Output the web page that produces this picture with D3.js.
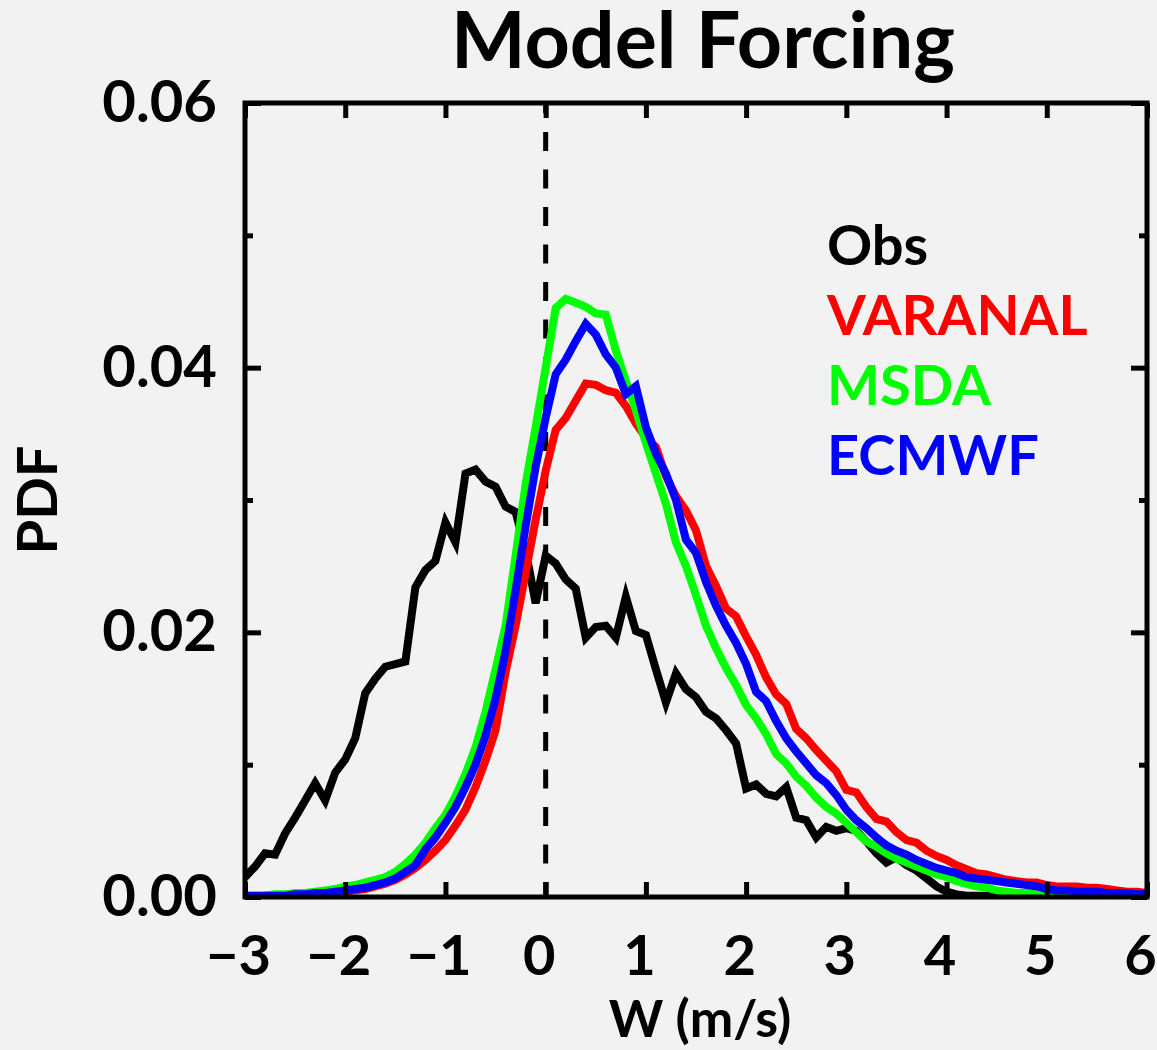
<html>
<script src="https://d3js.org/d3.v7.min.js"></script>
<style>
    body { margin: 0; background: #f2f2f2; }
    svg { display: block; font-family: Lato, 'Open Sans', sans-serif; font-weight: bold; }
</style>
<body>
<svg width=1157 height=1050></svg>
<script>

    // bins of W (m/s), 0.1 wide, from -3 to 6
    let binStart = -3, binStep = 0.1;

    let obs = [0.0015, 0.0023, 0.0033, 0.0032, 0.0048, 0.0060, 0.0073, 0.0086, 0.0073, 0.0094,
        0.0104, 0.0120, 0.0154, 0.0165, 0.0174, 0.0176, 0.0178, 0.0234, 0.0247, 0.0254,
        0.0283, 0.0268, 0.0320, 0.0323, 0.0314, 0.0310, 0.0295, 0.0291, 0.0262, 0.0222,
        0.0258, 0.0252, 0.0240, 0.0233, 0.0196, 0.0204, 0.0205, 0.0196, 0.0227, 0.0201,
        0.0198, 0.0172, 0.0147, 0.0169, 0.0157, 0.0151, 0.0140, 0.0135, 0.0126, 0.0116,
        0.0082, 0.0085, 0.0078, 0.0076, 0.0083, 0.0060, 0.0058, 0.0045, 0.0053, 0.0050,
        0.0052, 0.0050, 0.0042, 0.0033, 0.0026, 0.0030, 0.0024, 0.0020, 0.0014, 0.0008,
        0.0004, 0.0002, 0.0001, 0.0001, 0.0001, 0.0000, 0.0000, 0.0000, 0.0000, 0.0000,
        0.0000, 0.0000, 0.0000, 0.0000, 0.0000, 0.0000, 0.0000, 0.0000, 0.0000, 0.0000, 0.0000];

    let varanal = [0.0000, 0.0000, 0.0001, 0.0001, 0.0001, 0.0001, 0.0002, 0.0002, 0.0003, 0.0003,
        0.0004, 0.0005, 0.0006, 0.0008, 0.0010, 0.0013, 0.0017, 0.0022, 0.0028, 0.0035,
        0.0043, 0.0054, 0.0066, 0.0083, 0.0103, 0.0126, 0.0170, 0.0205, 0.0245, 0.0285,
        0.0322, 0.0353, 0.0362, 0.0375, 0.0388, 0.0387, 0.0383, 0.0381, 0.0371, 0.0358,
        0.0347, 0.0340, 0.0318, 0.0303, 0.0292, 0.0277, 0.0250, 0.0235, 0.0218, 0.0212,
        0.0197, 0.0183, 0.0166, 0.0153, 0.0146, 0.0127, 0.0120, 0.0111, 0.0103, 0.0095,
        0.0081, 0.0079, 0.0068, 0.0059, 0.0057, 0.0049, 0.0043, 0.0041, 0.0035, 0.0031,
        0.0028, 0.0024, 0.0021, 0.0018, 0.0017, 0.0015, 0.0013, 0.0012, 0.0011, 0.0011,
        0.0009, 0.0008, 0.0008, 0.0008, 0.0007, 0.0007, 0.0006, 0.0005, 0.0004, 0.0004, 0.0003];

    let msda = [0.0001, 0.0001, 0.0001, 0.0002, 0.0002, 0.0003, 0.0003, 0.0004, 0.0005, 0.0006,
        0.0008, 0.0009, 0.0011, 0.0013, 0.0015, 0.0019, 0.0025, 0.0032, 0.0041, 0.0052,
        0.0062, 0.0076, 0.0093, 0.0113, 0.0140, 0.0172, 0.0205, 0.0258, 0.0312, 0.0355,
        0.0400, 0.0445, 0.0452, 0.0449, 0.0446, 0.0441, 0.0440, 0.0413, 0.0390, 0.0368,
        0.0343, 0.0320, 0.0297, 0.0268, 0.0250, 0.0228, 0.0205, 0.0188, 0.0173, 0.0160,
        0.0145, 0.0135, 0.0123, 0.0108, 0.0101, 0.0091, 0.0084, 0.0075, 0.0068, 0.0063,
        0.0056, 0.0049, 0.0042, 0.0038, 0.0033, 0.0029, 0.0026, 0.0023, 0.0020, 0.0017,
        0.0015, 0.0012, 0.0010, 0.0008, 0.0007, 0.0005, 0.0004, 0.0003, 0.0003, 0.0002,
        0.0002, 0.0001, 0.0001, 0.0001, 0.0001, 0.0001, 0.0000, 0.0000, 0.0000, 0.0000, 0.0000];

    let ecmwf = [0.0001, 0.0001, 0.0001, 0.0001, 0.0001, 0.0002, 0.0002, 0.0003, 0.0003, 0.0004,
        0.0005, 0.0006, 0.0007, 0.0009, 0.0011, 0.0014, 0.0019, 0.0024, 0.0036, 0.0045,
        0.0056, 0.0068, 0.0083, 0.0100, 0.0122, 0.0150, 0.0186, 0.0232, 0.0280, 0.0325,
        0.0362, 0.0395, 0.0406, 0.0420, 0.0433, 0.0425, 0.0410, 0.0400, 0.0380, 0.0386,
        0.0355, 0.0335, 0.0320, 0.0300, 0.0270, 0.0260, 0.0238, 0.0220, 0.0205, 0.0192,
        0.0176, 0.0155, 0.0148, 0.0133, 0.0120, 0.0110, 0.0101, 0.0092, 0.0086, 0.0077,
        0.0066, 0.0058, 0.0052, 0.0045, 0.0039, 0.0035, 0.0032, 0.0028, 0.0025, 0.0022,
        0.0020, 0.0018, 0.0015, 0.0014, 0.0013, 0.0012, 0.0011, 0.0010, 0.0009, 0.0008,
        0.0006, 0.0005, 0.0005, 0.0004, 0.0004, 0.0004, 0.0003, 0.0003, 0.0003, 0.0002, 0.0002];

    let seriesNames = ['Obs', 'VARANAL', 'MSDA', 'ECMWF'];
    let seriesColors = ['#000000', '#ff0000', '#00ff00', '#0000ff'];
    let xTicks = [-3, -2, -1, 0, 1, 2, 3, 4, 5, 6];
    let yTicks = [0, 0.02, 0.04, 0.06];
    let yMinor = [0.01, 0.03, 0.05];

    let svg = d3.select('svg'),
        margin = { top: 103, right: 10, bottom: 153, left: 245 },
        width = +svg.attr('width') - margin.left - margin.right,
        height = +svg.attr('height') - margin.top - margin.bottom,
        svgg = svg.append('g')
            .attr('transform', 'translate(' + margin.left + ',' + margin.top + ')');

    svg.insert('rect', ':first-child')
        .attr('width', 1157).attr('height', 1050).attr('fill', '#f2f2f2');

    let xscale = d3.scaleLinear().domain([-3, 6]).range([0, width]);
    let yscale = d3.scaleLinear().domain([0, 0.06]).range([height, 0]);

    svgg.append('clipPath').attr('id', 'plot')
        .append('rect').attr('width', width).attr('height', height);

    // zero line
    svgg.append('line')
        .attr('x1', xscale(0)).attr('x2', xscale(0))
        .attr('y1', 0).attr('y2', height)
        .attr('stroke', 'black').attr('stroke-width', 5)
        .attr('stroke-dasharray', '19,18.5').attr('stroke-dashoffset', 8.5);

    let line = d3.line()
        .x((d, i) => xscale(binStart + i * binStep))
        .y(d => yscale(d));

    [obs, varanal, msda, ecmwf].forEach((s, k) => {
        svgg.append('path')
            .datum(s)
            .attr('clip-path', 'url(#plot)')
            .attr('fill', 'none')
            .attr('stroke', seriesColors[k])
            .attr('stroke-width', 8)
            .attr('stroke-linejoin', 'miter')
            .attr('d', line);
    });

    // axes, ticks pointing in
    function styleAxis(g) {
        g.select('.domain').remove();
        g.selectAll('.tick line').attr('stroke', 'black').attr('stroke-width', 5);
        g.selectAll('.tick text').attr('fill', 'black')
            .style('font-size', '56px').style('font-family', 'Lato').style('font-weight', 'bold');
    }

    svgg.append('g')
        .attr('transform', 'translate(0,' + height + ')')
        .call(d3.axisBottom(xscale).tickValues(xTicks).tickSizeInner(-15).tickSizeOuter(0)
            .tickPadding(38).tickFormat(d => d < 0 ? '\u2212' + Math.abs(d) : d))
        .call(styleAxis)
        .selectAll('.tick text').attr('dx', -7);

    svgg.append('g')
        .call(d3.axisTop(xscale).tickValues(xTicks).tickSizeInner(-15).tickSizeOuter(0).tickFormat(''))
        .call(styleAxis);

    svgg.append('g')
        .call(d3.axisLeft(yscale).tickValues(yTicks).tickSizeInner(-16).tickSizeOuter(0)
            .tickPadding(28).tickFormat(d3.format('.2f')))
        .call(styleAxis)
        .selectAll('.tick text').style('font-size', '58px');

    svgg.append('g')
        .call(d3.axisLeft(yscale).tickValues(yMinor).tickSizeInner(-8).tickSizeOuter(0).tickFormat(''))
        .call(styleAxis);

    svgg.append('g')
        .attr('transform', 'translate(' + width + ',0)')
        .call(d3.axisRight(yscale).tickValues(yTicks).tickSizeInner(-16).tickSizeOuter(0).tickFormat(''))
        .call(styleAxis);

    svgg.append('g')
        .attr('transform', 'translate(' + width + ',0)')
        .call(d3.axisRight(yscale).tickValues(yMinor).tickSizeInner(-8).tickSizeOuter(0).tickFormat(''))
        .call(styleAxis);

    // frame
    svgg.append('rect')
        .attr('width', width).attr('height', height)
        .attr('fill', 'none').attr('stroke', 'black').attr('stroke-width', 5);

    // labels
    svg.append('text')
        .attr('x', 703).attr('y', 68)
        .attr('text-anchor', 'middle')
        .style('font-size', '79px')
        .text('Model Forcing');

    svg.append('text')
        .attr('x', 700).attr('y', 1037)
        .attr('text-anchor', 'middle')
        .style('font-size', '52px')
        .text('W (m/s)');

    svg.append('text')
        .attr('transform', 'translate(57,500) rotate(-90)')
        .attr('text-anchor', 'middle')
        .style('font-size', '56px')
        .text('PDF');

    // legend
    svg.selectAll('.legend')
        .data(seriesNames)
      .enter()
        .append('text')
        .attr('x', 827)
        .attr('y', (d, i) => 265 + i * 70)
        .attr('fill', (d, i) => seriesColors[i])
        .style('font-size', '56px')
        .text(d => d);

</script>
</body>
</html>
